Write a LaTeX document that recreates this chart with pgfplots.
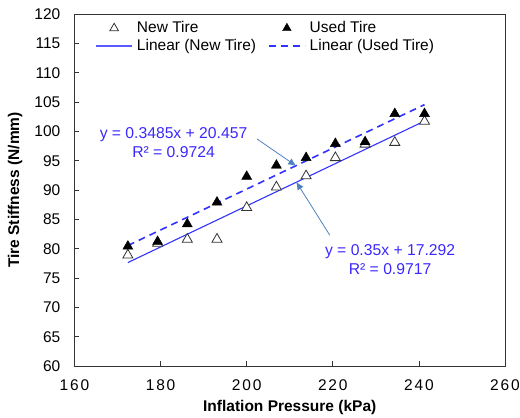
\documentclass[border=0pt]{standalone}
\usepackage{fontspec}
\setmainfont{Liberation Sans}
\newfontfamily\spaced[LetterSpace=12]{Liberation Sans}
\usepackage{pgfplots}
\pgfplotsset{compat=1.18}
\usetikzlibrary{arrows.meta}

\definecolor{trendblue}{RGB}{51,51,255}
\definecolor{legblue}{RGB}{90,90,255}
\definecolor{eqblue}{RGB}{60,40,255}
\definecolor{arrowblue}{RGB}{79,129,189}

\pgfplotsset{
    marklegend/.style={legend image code/.code={\draw[##1] plot coordinates {(18pt,0pt)};}},
    newlinelegend/.style={legend image code/.code={\draw[legblue, line width=1.6pt] (0pt,0pt) -- (36pt,0pt);}},
    usedlinelegend/.style={legend image code/.code={\draw[trendblue, line width=1.6pt, dash pattern=on 7pt off 5pt] (0pt,0pt) -- (36pt,0pt);}},
}

\begin{document}
\fontsize{15}{18}\selectfont
\begin{tikzpicture}[x=1pt,y=1pt]
\begin{axis}[
    scale only axis,
    width=430.5pt, height=352pt,
    xmin=160, xmax=260, ymin=60, ymax=120,
    xtick={160,180,...,260},
    ytick={60,65,...,120},
    tick align=inside,
    xtick pos=bottom, ytick pos=left,
    major tick length=5pt,
    axis line style={line width=0.9pt, black!80},
    every tick/.style={black!80, line width=0.8pt},
    /pgf/number format/assume math mode=true,
    yticklabel style={xshift=-9pt, font=\fontsize{15.5}{18}\selectfont},
    xticklabel style={yshift=-8pt, font=\spaced\fontsize{15.5}{18}\selectfont},
    xlabel={\textbf{Inflation Pressure (kPa)}},
    ylabel={\textbf{Tire Stiffness (N/mm)}},
    label style={font=\fontsize{15.5}{18}\selectfont},
    xlabel style={at={(axis description cs:0.5,-0.1165)}, anchor=center},
    ylabel style={at={(axis description cs:-0.138,0.5)}, anchor=center},
    legend columns=2,
    legend cell align=left,
    legend style={draw=none, fill=none, inner sep=0pt,
        at={(axis description cs:0.048,0.985)}, anchor=north west,
        font=\fontsize{15.5}{18}\selectfont,
        /tikz/every even column/.append style={column sep=10pt},
        /tikz/every odd column/.append style={column sep=2pt}},
]

% trend lines
\addplot[draw=trendblue, line width=1.1pt, forget plot] coordinates {(172.4,77.63) (241.3,101.75)};
\addplot[draw=trendblue, line width=1.6pt, dash pattern=on 7pt off 5pt, forget plot] coordinates {(172.4,80.54) (241.3,104.55)};

% new tire
\addplot[only marks, mark=triangle*, mark size=5.8pt, mark options={fill=white, draw=black!80, line width=0.8pt}, forget plot] coordinates {
    (172.4,78.9) (179.3,80.9) (186.2,81.6) (193.1,81.6) (200.0,87.0) (206.9,90.5)
    (213.8,92.4) (220.6,95.5) (227.5,97.8) (234.4,98.1) (241.3,101.7)
};
% used tire
\addplot[only marks, mark=triangle*, mark size=5.8pt, mark options={fill=black, draw=black}, forget plot] coordinates {
    (172.4,80.4) (179.3,81.2) (186.2,84.2) (193.1,87.9) (200.0,92.3) (206.9,94.2)
    (213.8,95.5) (220.6,97.9) (227.5,98.2) (234.4,103.0) (241.3,103.0)
};

\addlegendimage{marklegend, only marks, mark=triangle*, mark size=5pt, mark options={fill=white, draw=black!80, line width=0.8pt}}
\addlegendentry{New Tire}
\addlegendimage{marklegend, only marks, mark=triangle*, mark size=5pt, mark options={fill=black, draw=black}}
\addlegendentry{Used Tire}
\addlegendimage{newlinelegend}
\addlegendentry{Linear (New Tire)}
\addlegendimage{usedlinelegend}
\addlegendentry{Linear (Used Tire)}

% equations
\node[eqblue, align=center, inner sep=0pt, font=\fontsize{15.7}{19}\selectfont] at (axis cs:183.0,98.1) {y = 0.3485x + 20.457\\R² = 0.9724};
\node[eqblue, align=center, inner sep=0pt, font=\fontsize{15.7}{19}\selectfont] at (axis cs:233.3,78.2) {y = 0.35x + 17.292\\R² = 0.9717};
\draw[arrowblue, line width=0.8pt, -{Latex[length=8pt,width=7pt]}] (axis cs:202.4,98.7) -- (axis cs:211.5,94.1);
\draw[arrowblue, line width=0.8pt, -{Latex[length=8pt,width=7pt]}] (axis cs:219.3,82.3) -- (axis cs:211.5,91.4);
\end{axis}
\pgfresetboundingbox
\path (-74.5,-52) rectangle (445.5,366);
\end{tikzpicture}
\end{document}
